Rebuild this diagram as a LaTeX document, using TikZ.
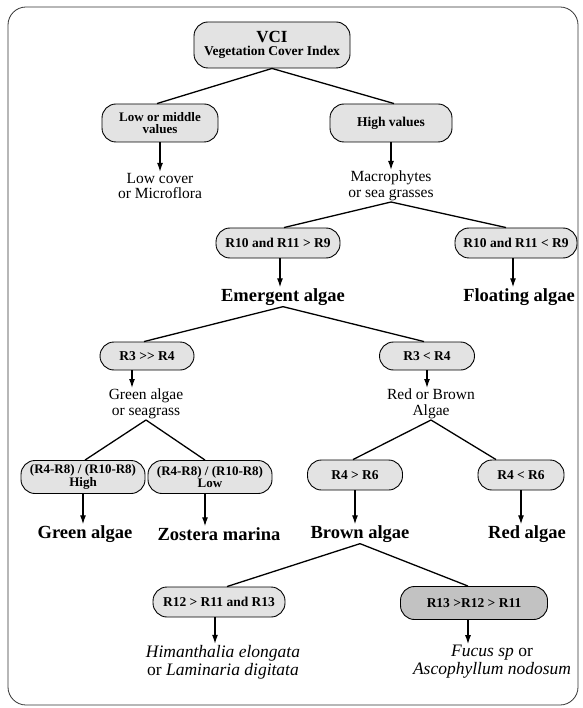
\documentclass[tikz,border=0pt]{standalone}
\usepackage{fontspec}
\setmainfont{Liberation Serif}
\usetikzlibrary{arrows.meta}
\tikzset{
  cond/.style={draw=black, line width=0.9pt, rectangle, rounded corners=14pt, fill=black!11,
    font=\bfseries\fontsize{13.5}{13.5}\selectfont, inner xsep=0pt, inner ysep=2pt, align=center},
  condtwo/.style={cond, font=\bfseries\fontsize{13}{12.5}\selectfont},
  condark/.style={cond, fill=black!24},
  res/.style={align=center, inner sep=1pt, font=\fontsize{15.5}{15.5}\selectfont},
  resit/.style={res, font=\itshape\fontsize{17.5}{18}\selectfont},
  resb/.style={align=center, inner sep=1pt, font=\bfseries\fontsize{18.5}{19}\selectfont},
  conn/.style={line width=1.3pt},
  arr/.style={line width=1.3pt, -{Latex[length=9pt,width=6pt]}},
}
\begin{document}
\begin{tikzpicture}[x=1pt,y=-1pt]
\useasboundingbox (0,0) rectangle (582,708);
\draw[line width=0.8pt, rounded corners=18pt, black!80] (8,7) rectangle (578,705);

% level 1
\node[cond, minimum width=156pt, minimum height=46pt] (vci) at (272,45)
  {{\fontsize{17}{17}\selectfont VCI}\\{\fontsize{13.5}{13.5}\selectfont Vegetation Cover Index}};
\node[condtwo, minimum width=116pt, minimum height=38pt] (low) at (160,123) {Low or middle\\values};
\node[cond, minimum width=122pt, minimum height=38pt] (high) at (391,123) {High values};
\node[res] (lowcov) at (160,186) {Low cover\\or Microflora};
\node[res] (macro) at (391,186) {Macrophytes\\or sea grasses};

\draw[conn] (vci.south) -- ([xshift=-3pt]low.north);
\draw[conn] (vci.south) -- ([xshift=3pt]high.north);
\draw[arr] (low.south) -- (lowcov.north);
\draw[arr] (high.south) -- (macro.north);

% level 2
\node[cond, minimum width=124pt, minimum height=30pt] (r10gt) at (278,243) {R10 and R11 > R9};
\node[cond, minimum width=122pt, minimum height=30pt] (r10lt) at (516,243) {R10 and R11 < R9};
\node[resb] (emergent) at (283,297) {Emergent algae};
\node[resb] (floating) at (519,297) {Floating algae};

\draw[conn] (macro.south) -- ([xshift=6pt]r10gt.north);
\draw[conn] (macro.south) -- ([xshift=-10pt]r10lt.north);
\draw[arr] ([xshift=2pt]r10gt.south) -- ([xshift=2pt]r10gt.south |- emergent.north);
\draw[arr] ([xshift=-3pt]r10lt.south) -- ([xshift=-3pt]r10lt.south |- floating.north);

% level 3
\node[cond, minimum width=94pt, minimum height=28pt] (r3gg) at (147,356) {R3 >{}> R4};
\node[cond, minimum width=95pt, minimum height=28pt] (r3lt) at (427,356) {R3 < R4};
\node[res] (greensea) at (146,404) {Green algae\\or seagrass};
\node[res] (redbrown) at (431,404) {Red or Brown\\Algae};

\draw[conn] (emergent.south) -- ([xshift=-3pt]r3gg.north);
\draw[conn] (emergent.south) -- ([xshift=-3pt]r3lt.north);
\draw[arr] ([xshift=-15pt]r3gg.south) -- ([xshift=-15pt]r3gg.south |- greensea.north);
\draw[arr] (r3lt.south) -- (r3lt.south |- redbrown.north);

% level 4
\node[condtwo, minimum width=124pt, minimum height=33pt] (rhigh) at (83,477) {(R4-R8) / (R10-R8)\\High};
\node[condtwo, minimum width=124pt, minimum height=33pt] (rlow) at (210,477) {(R4-R8) / (R10-R8)\\Low};
\node[cond, minimum width=95pt, minimum height=30pt] (r4gt) at (355,475) {R4 > R6};
\node[cond, minimum width=86pt, minimum height=30pt] (r4lt) at (521,475) {R4 < R6};

\draw[conn] (greensea.south) -- ([xshift=2pt]rhigh.north);
\draw[conn] (greensea.south) -- ([xshift=-5pt]rlow.north);
\draw[conn] (redbrown.south) -- ([xshift=-2pt]r4gt.north);
\draw[conn] (redbrown.south) -- ([xshift=-25pt]r4lt.north);

\node[resb] (greenalg) at (85,534) {Green algae};
\node[resb] (zostera) at (219,534) {Zostera marina};
\node[resb] (brown) at (360,534) {Brown algae};
\node[resb] (red) at (527,534) {Red algae};

\draw[arr] (rhigh.south) -- (rhigh.south |- greenalg.north);
\draw[arr] ([xshift=-5pt]rlow.south) -- ([xshift=-5pt]rlow.south |- zostera.north);
\draw[arr] (r4gt.south) -- (r4gt.south |- brown.north);
\draw[arr] (r4lt.south) -- (r4lt.south |- red.north);

% level 5
\node[cond, minimum width=132pt, minimum height=30pt] (r12) at (219,602) {R12 > R11 and R13};
\node[condark, minimum width=147pt, minimum height=33pt] (r13) at (474,603) {R13 >R12 > R11};
\node[resit] (himan) at (223,662)
  {Himanthalia elongata\\\textup{or} Laminaria digitata};
\node[resit] (fucus) at (492,662)
  {Fucus sp \textup{or}\\Ascophyllum nodosum};

\draw[conn] (brown.south) -- ([xshift=8pt]r12.north);
\draw[conn] (brown.south) -- ([xshift=-6pt]r13.north);
\draw[arr] ([xshift=-4pt]r12.south) -- ([xshift=-4pt]r12.south |- himan.north);
\draw[arr] ([xshift=-6pt]r13.south) -- ([xshift=-6pt]r13.south |- fucus.north);
\end{tikzpicture}
\end{document}
